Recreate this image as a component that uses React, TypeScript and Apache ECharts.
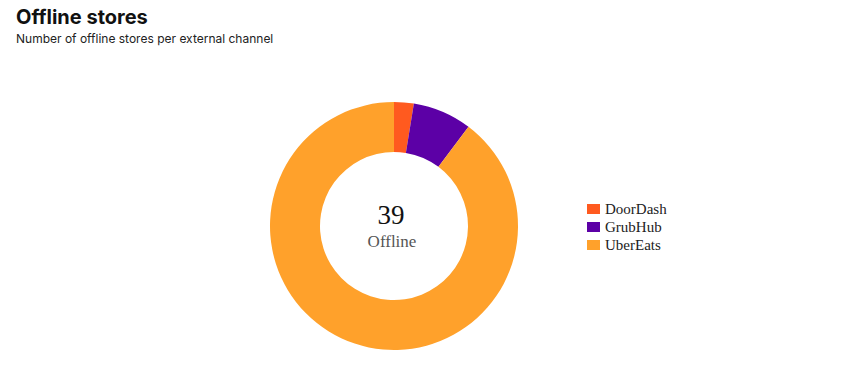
import React, { useEffect, useRef } from "react";
import * as echarts from "echarts";

const channels = ["DoorDash", "GrubHub", "UberEats"];
const storeCounts = [1, 3, 35];
const colors = ["#ff5a1f", "#5c00a6", "#ffa12b"];
const totalLabel = "39";
const centerLabel = "Offline";

export default function App() {
  const ref = useRef<HTMLDivElement>(null);
  useEffect(() => {
    if (!ref.current) return;
    const chart = echarts.init(ref.current, undefined, { renderer: "svg" });
    chart.setOption({
      animation: false,
      color: colors,
      title: {
        text: "Offline stores",
        subtext: "Number of offline stores per external channel",
        left: 11,
        top: 2,
        itemGap: 5,
        textStyle: { fontFamily: "Inter, Liberation Sans, sans-serif", fontWeight: "bold", fontSize: 20, color: "#111" },
        subtextStyle: { fontFamily: "Inter, Liberation Sans, sans-serif", fontSize: 12, color: "#222" },
      },
      legend: {
        orient: "vertical",
        left: 582,
        top: 195,
        icon: "rect",
        itemWidth: 13,
        itemHeight: 10,
        itemGap: 0,
        selectedMode: false,
        textStyle: { fontFamily: "Liberation Serif, serif", fontSize: 15, lineHeight: 18, color: "#222" },
        data: channels,
      },
      graphic: [
        {
          type: "text",
          x: 391,
          y: 215,
          style: { text: totalLabel, fontFamily: "Liberation Serif, serif", fontSize: 27, fill: "#111", align: "center", verticalAlign: "middle" },
        },
        {
          type: "text",
          x: 392,
          y: 241,
          style: { text: centerLabel, fontFamily: "Liberation Serif, serif", fontSize: 17, fill: "#555", align: "center", verticalAlign: "middle" },
        },
      ],
      series: [
        {
          type: "pie",
          center: [394, 226],
          radius: [74, 124],
          startAngle: 90,
          clockwise: true,
          label: { show: false },
          labelLine: { show: false },
          emphasis: { disabled: true },
          itemStyle: { borderWidth: 0 },
          data: channels.map((c, i) => ({ name: c, value: storeCounts[i] })),
        },
      ],
    });
    return () => chart.dispose();
  }, []);
  return <div ref={ref} style={{ position: "absolute", left: 0, top: 0, width: 859, height: 370 }} />;
}
